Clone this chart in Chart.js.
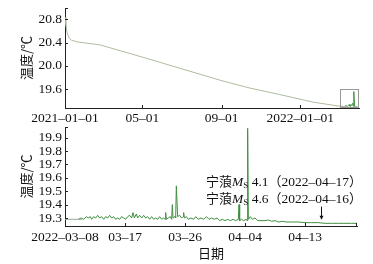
<!DOCTYPE html>
<html>
<head>
<meta charset="utf-8">
<script src="https://cdn.jsdelivr.net/npm/chart.js@4/dist/chart.umd.min.js"></script>
<style>
  html, body { margin: 0; padding: 0; background: #fff; }
  #wrap { position: relative; width: 373px; height: 264px; }
  #top { position: absolute; left: 0; top: 0; }
  #bottom { position: absolute; left: 0; top: 120px; }
</style>
</head>
<body>
<div id="wrap">
  <canvas id="top" width="373" height="130"></canvas>
  <canvas id="bottom" width="373" height="144"></canvas>
</div>
<script>
// top panel: days since 2021-01-01
const topTickDays = [0, 120, 243, 365];
const topTickLabels = ['2021–01–01', '05–01', '09–01', '2022–01–01'];
const topYTicks = [19.6, 20.0, 20.4, 20.8];
const trendDays = [0, 1.5, 3, 4.7, 7, 10, 19, 54, 120, 178, 242, 287, 333, 385, 426, 440];
const trendTemps = [20.83, 20.70, 20.58, 20.52, 20.47, 20.44, 20.41, 20.36, 20.15, 19.96, 19.75, 19.62, 19.51, 19.38, 19.31, 19.30];
const recentDays = [426, 428, 430, 432, 434, 436, 438, 440, 441, 442, 444, 446, 447, 448, 449, 450, 452, 454, 456];
const recentTemps = [19.31, 19.30, 19.31, 19.30, 19.31, 19.32, 19.31, 19.33, 19.34, 19.31, 19.32, 19.36, 19.31, 19.56, 19.31, 19.30, 19.30, 19.29, 19.29];

// bottom panel: days since 2022-03-08
const botTickDays = [0, 9, 18, 27, 36];
const botTickLabels = ['2022–03–08', '03–17', '03–26', '04–04', '04–13'];
const botYTicks = [19.3, 19.4, 19.5, 19.6, 19.7, 19.8, 19.9];
const flatDays = [0, 1.5, 2.5];
const flatTemps = [19.29, 19.29, 19.29];
const zoomDays = [2.0, 2.4, 2.8, 3.2, 3.5, 3.8, 4.0, 4.3, 4.6, 4.9, 5.2, 5.5, 5.8, 6.1, 6.4, 6.7, 7.0, 7.3, 7.6, 7.9,
  8.2, 8.5, 8.8, 9.1, 9.4, 9.7, 10.0, 10.2, 10.4, 10.7, 10.9, 11.2, 11.5, 11.8, 12.1, 12.4, 12.7, 13.0, 13.3, 13.6,
  13.9, 14.2, 14.5, 14.8, 15.0, 15.1, 15.2, 15.5, 15.8, 16.0, 16.1, 16.2, 16.5, 16.6, 16.7, 16.9, 17.2, 17.5, 17.7, 17.8,
  17.9, 18.2, 18.5, 18.9, 19.3, 19.6, 20.0, 20.4, 20.8, 21.2, 21.6, 22.0, 22.4, 22.8, 23.2, 23.6, 24.0, 24.4, 24.8, 25.2,
  25.6, 26.0, 26.1, 26.2, 26.5, 26.8, 27.2, 27.3, 27.4, 27.5, 27.8, 28.1, 28.5, 28.9, 29.4, 30.0, 30.5, 31.0, 31.5, 32.0,
  32.6, 33.2, 34.0, 35.0, 36.0, 37.0, 38.0, 39.0, 40.0, 41.0, 42.0, 43.0, 43.8];
const zoomTemps = [19.29, 19.30, 19.29, 19.31, 19.30, 19.31, 19.29, 19.31, 19.30, 19.32, 19.30, 19.31, 19.29, 19.31, 19.30, 19.32, 19.30, 19.31, 19.29, 19.30,
  19.29, 19.31, 19.30, 19.29, 19.31, 19.32, 19.30, 19.34, 19.30, 19.33, 19.30, 19.32, 19.30, 19.32, 19.30, 19.31, 19.29, 19.31, 19.29, 19.30,
  19.29, 19.31, 19.29, 19.30, 19.29, 19.34, 19.29, 19.30, 19.31, 19.29, 19.40, 19.30, 19.31, 19.30, 19.54, 19.31, 19.32, 19.30, 19.31, 19.34,
  19.30, 19.31, 19.29, 19.30, 19.29, 19.31, 19.29, 19.30, 19.29, 19.31, 19.29, 19.30, 19.29, 19.30, 19.28, 19.29, 19.28, 19.29, 19.28, 19.29,
  19.28, 19.29, 19.40, 19.28, 19.29, 19.28, 19.29, 19.28, 19.97, 19.29, 19.31, 19.29, 19.30, 19.28, 19.28, 19.28, 19.285, 19.275, 19.28, 19.27,
  19.275, 19.27, 19.27, 19.27, 19.265, 19.265, 19.265, 19.26, 19.26, 19.26, 19.26, 19.26, 19.26];

const serif = '"Liberation Serif", "DejaVu Serif", serif';
const cjk = '"Noto Sans CJK SC", sans-serif';

function pts(xs, ys) { return xs.map((x, i) => ({ x: x, y: ys[i] })); }

// inward tick marks on both axes
const innerTicks = {
  id: 'innerTicks',
  afterDraw(chart) {
    const ctx = chart.ctx, a = chart.chartArea;
    const xs = chart.scales.x, ys = chart.scales.y;
    ctx.save();
    ctx.strokeStyle = '#222';
    ctx.lineWidth = 1;
    ctx.beginPath();
    xs.ticks.forEach(t => {
      const px = Math.round(xs.getPixelForValue(t.value)) + 0.5;
      ctx.moveTo(px, a.bottom); ctx.lineTo(px, a.bottom - 3);
    });
    ctx.moveTo(a.right - 0.5, a.bottom); ctx.lineTo(a.right - 0.5, a.bottom - 3);
    ys.ticks.forEach(t => {
      const py = Math.round(ys.getPixelForValue(t.value)) + 0.5;
      ctx.moveTo(a.left, py); ctx.lineTo(a.left + 3, py);
    });
    ctx.moveTo(a.left, a.top + 0.5); ctx.lineTo(a.left + 3, a.top + 0.5);
    ctx.stroke();
    ctx.restore();
  }
};

function baseOptions(opt) {
  return {
    responsive: false,
    animation: false,
    layout: { padding: { left: 0, right: opt.padRight, top: opt.padTop, bottom: 0 } },
    plugins: { legend: { display: false }, tooltip: { enabled: false } },
    elements: { point: { radius: 0 }, line: { borderWidth: 1, tension: 0 } },
    scales: {
      x: {
        type: 'linear',
        min: opt.xMin, max: opt.xMax,
        grid: { display: false, drawTicks: false },
        border: { display: true, color: '#222', width: 1 },
        afterBuildTicks: s => { s.ticks = opt.xTicks.map(v => ({ value: v })); },
        afterFit: s => { s.height = opt.xHeight; s.paddingLeft = 0; s.paddingRight = 0; },
        ticks: {
          autoSkip: false, maxRotation: 0, padding: opt.xPad, color: '#111',
          font: { family: serif, size: 13.5 },
          callback: v => opt.xLabels[opt.xTicks.indexOf(v)]
        },
        title: opt.xTitle ? {
          display: true, text: opt.xTitle, color: '#111',
          font: { family: cjk, size: 13 }, padding: { top: 0, bottom: 3 }
        } : { display: false }
      },
      y: {
        min: opt.yMin, max: opt.yMax,
        grid: { display: false, drawTicks: false },
        border: { display: true, color: '#222', width: 1 },
        afterBuildTicks: s => { s.ticks = opt.yTicks.map(v => ({ value: v })); },
        afterFit: s => { s.width = 65; s.paddingTop = 0; s.paddingBottom = 0; },
        ticks: {
          autoSkip: false, padding: 3, color: '#111',
          font: { family: serif, size: 13.5 },
          callback: v => v.toFixed(1)
        },
        title: {
          display: true, text: '温度/℃', color: '#111',
          font: { family: cjk, size: 13 }, padding: { top: 18, bottom: 0 }
        }
      }
    }
  };
}

// box marking the zoomed range in the top panel
const zoomBox = {
  id: 'zoomBox',
  afterDraw(chart) {
    const ctx = chart.ctx, xs = chart.scales.x, ys = chart.scales.y;
    const x1 = xs.getPixelForValue(426), x2 = xs.getPixelForValue(456);
    const y1 = ys.getPixelForValue(19.6), y2 = ys.getPixelForValue(19.28);
    ctx.save();
    ctx.strokeStyle = '#999';
    ctx.lineWidth = 1;
    ctx.strokeRect(Math.round(x1) + 0.5, Math.round(y1) + 0.5, Math.round(x2 - x1) - 1, Math.round(y2 - y1) - 1);
    ctx.restore();
  }
};

new Chart(document.getElementById('top'), {
  type: 'line',
  data: {
    datasets: [
      { data: pts(trendDays, trendTemps), borderColor: '#adbc9f' },
      { data: pts(recentDays, recentTemps), borderColor: '#3f8f3f' }
    ]
  },
  options: baseOptions({
    padRight: 14, padTop: 8, xMin: 0, xMax: 456, xTicks: topTickDays, xLabels: topTickLabels,
    xHeight: 22, xPad: 2, yMin: 19.28, yMax: 20.99, yTicks: topYTicks
  }),
  plugins: [innerTicks, zoomBox]
});

// earthquake note and arrow in the bottom panel
const quakeNote = {
  id: 'quakeNote',
  afterDraw(chart) {
    const ctx = chart.ctx, xs = chart.scales.x, ys = chart.scales.y;
    const lines = [['4.1', '2022–04–17'], ['4.6', '2022–04–16']];
    ctx.save();
    ctx.fillStyle = '#111';
    ctx.textBaseline = 'alphabetic';
    lines.forEach((ln, i) => {
      let x = 206;
      const y = 66 + i * 17;
      ctx.font = '13px ' + cjk; ctx.fillText('宁蒗', x, y); x += ctx.measureText('宁蒗').width;
      ctx.font = 'italic 13.5px ' + serif; ctx.fillText('M', x, y); x += ctx.measureText('M').width;
      ctx.font = '9px ' + serif; ctx.fillText('S', x, y + 2); x += ctx.measureText('S').width;
      ctx.font = '13.5px ' + serif; ctx.fillText(' ' + ln[0], x, y); x += ctx.measureText(' ' + ln[0]).width;
      ctx.font = '13px ' + cjk; ctx.fillText('（', x, y); x += ctx.measureText('（').width;
      ctx.font = '13.5px ' + serif; ctx.fillText(ln[1], x, y); x += ctx.measureText(ln[1]).width;
      ctx.font = '13px ' + cjk; ctx.fillText('）', x, y);
    });
    const ax = Math.round(xs.getPixelForValue(38.4)) + 0.5;
    const ay1 = ys.getPixelForValue(19.385), ay2 = ys.getPixelForValue(19.287);
    ctx.strokeStyle = '#111';
    ctx.lineWidth = 1;
    ctx.beginPath(); ctx.moveTo(ax, ay1); ctx.lineTo(ax, ay2 - 3); ctx.stroke();
    ctx.beginPath(); ctx.moveTo(ax - 2, ay2 - 4); ctx.lineTo(ax + 2, ay2 - 4); ctx.lineTo(ax, ay2); ctx.closePath(); ctx.fill();
    ctx.restore();
  }
};

new Chart(document.getElementById('bottom'), {
  type: 'line',
  data: {
    datasets: [
      { data: pts(flatDays, flatTemps), borderColor: '#9aa89a' },
      { data: pts(zoomDays, zoomTemps), borderColor: '#3f8f3f' }
    ]
  },
  options: baseOptions({
    padRight: 16, padTop: 7, xMin: 0, xMax: 43.8, xTicks: botTickDays, xLabels: botTickLabels,
    xHeight: 38, xPad: 3, yMin: 19.24, yMax: 19.98, yTicks: botYTicks, xTitle: '日期'
  }),
  plugins: [innerTicks, quakeNote]
});
</script>
</body>
</html>
